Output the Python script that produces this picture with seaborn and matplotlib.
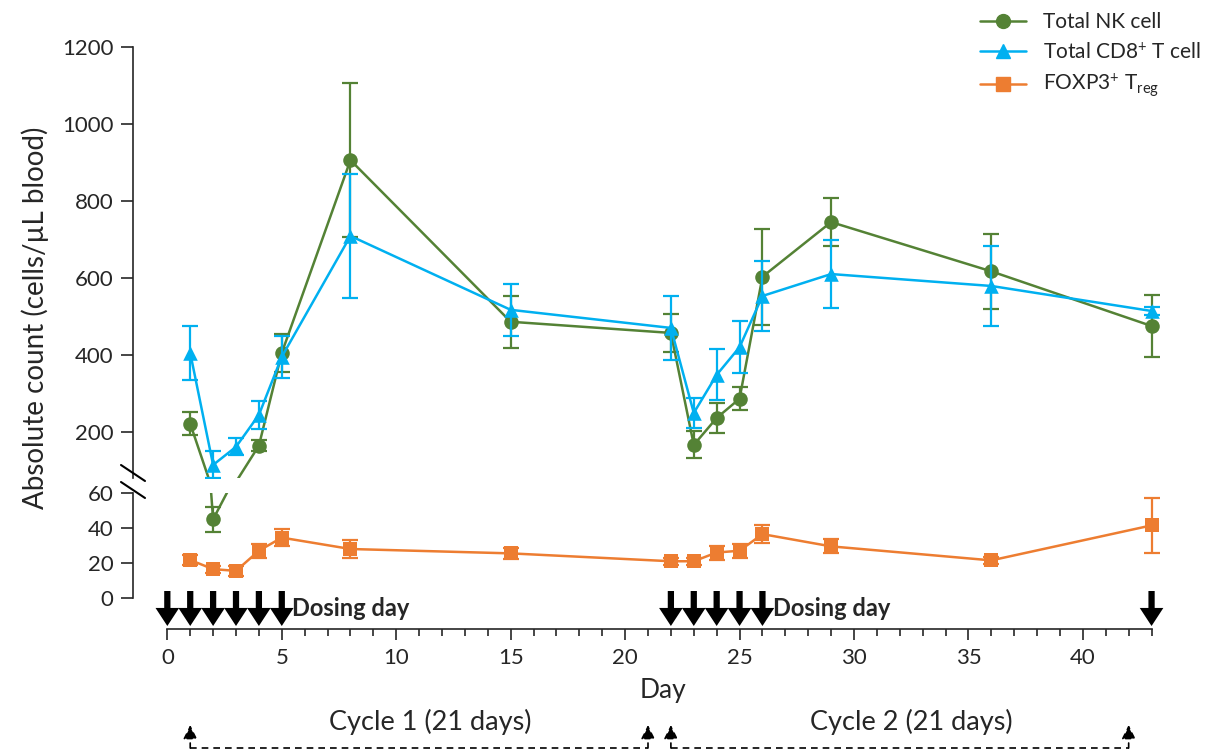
import matplotlib
matplotlib.use('Agg')
import matplotlib.pyplot as plt
import matplotlib.transforms as mtrans
from matplotlib.lines import Line2D
import seaborn as sns
import pandas as pd

# sampling days
days = [1, 2, 3, 4, 5, 8, 15, 22, 23, 24, 25, 26, 29, 36, 43]

# means and error (cells/uL blood)
nk_mean = [221, 45, 70, 164, 405, 906, 486, 457, 166, 236, 286, 603, 745, 617, 475]
nk_err = [30, 7, 10, 15, 50, 200, 68, 50, 35, 40, 30, 125, 63, 98, 80]
cd8_mean = [405, 114, 161, 244, 395, 709, 517, 470, 249, 348, 420, 553, 610, 579, 514]
cd8_err = [70, 35, 22, 37, 55, 160, 67, 83, 38, 66, 68, 90, 88, 105, 10]
treg_mean = [21.7, 16.5, 15.5, 27, 34.5, 28, 25.5, 21, 21, 26, 27, 36.5, 29.5, 21.5, 41.5]
treg_err = [3, 2, 3, 4, 5, 5, 3, 2, 2, 4, 4, 5, 4, 2, 15.5]

series_names = ['Total NK cell', 'Total CD8$^{+}$ T cell', 'FOXP3$^{+}$ T$_{\\mathrm{reg}}$']
series_colors = ['#548235', '#00B0F0', '#ED7D31']
series_markers = ['o', '^', 's']

# dosing schedule
dosing_days = [0, 1, 2, 3, 4, 5, 22, 23, 24, 25, 26, 43]
dosing_label_days = [5.45, 26.45]
cycle_labels = ['Cycle 1 (21 days)', 'Cycle 2 (21 days)']
cycle_start = [1, 22]
cycle_end = [21, 42]

# axis ranges for the broken y axis
upper_lim = (80, 1200)
lower_lim = (0, 60)
upper_ticks = [200, 400, 600, 800, 1000, 1200]
lower_ticks = [0, 20, 40, 60]

W, H = 1213, 752


def main():
    sns.set_style('ticks')
    plt.rcParams['font.family'] = ['Lato', 'DejaVu Sans']
    plt.rcParams['mathtext.fontset'] = 'custom'
    plt.rcParams['mathtext.rm'] = 'Lato'
    plt.rcParams['mathtext.it'] = 'Lato:italic'
    plt.rcParams['axes.linewidth'] = 1.2

    df = pd.DataFrame({
        'day': days * 3,
        'value': nk_mean + cd8_mean + treg_mean,
        'err': nk_err + cd8_err + treg_err,
        'series': sum([[s] * len(days) for s in series_names], []),
    })

    fig = plt.figure(figsize=(W / 100, H / 100), dpi=100)
    left, right = 133 / W, 1163 / W
    ax_top = fig.add_axes([left, 1 - 478 / H, right - left, (478 - 47) / H])
    ax_bot = fig.add_axes([left, 1 - 598 / H, right - left, (598 - 493) / H])

    for ax, lim in [(ax_top, upper_lim), (ax_bot, lower_lim)]:
        for i, name in enumerate(series_names):
            sub = df[df['series'] == name]
            z = 2 + i
            sns.lineplot(data=sub, x='day', y='value', ax=ax, color=series_colors[i],
                         lw=1.8, sort=False, errorbar=None, legend=False, zorder=z)
            inside = sub[(sub['value'] >= lim[0]) & (sub['value'] <= lim[1])]
            ax.errorbar(inside['day'], inside['value'], yerr=inside['err'], fmt='none',
                        ecolor=series_colors[i], elinewidth=1.6, capsize=6, capthick=1.6,
                        zorder=z)
            sns.scatterplot(data=inside, x='day', y='value', ax=ax, color=series_colors[i],
                            marker=series_markers[i], s=110, linewidth=0, legend=False,
                            zorder=z + 0.5)
        ax.set_xlim(-1.5, 43.5)
        ax.set_ylim(*lim)
        ax.set_xlabel('')
        ax.set_ylabel('')
        ax.tick_params(axis='y', length=9, width=1.2, labelsize=16, pad=5)
        ax.spines['right'].set_visible(False)
        ax.spines['top'].set_visible(False)

    ax_top.set_yticks(upper_ticks)
    ax_bot.set_yticks(lower_ticks)

    # upper panel has no x axis
    ax_top.spines['bottom'].set_visible(False)
    ax_top.tick_params(axis='x', bottom=False, labelbottom=False)

    # x axis offset below the lower panel
    ax_bot.spines['bottom'].set_position(('outward', 22))
    ax_bot.spines['bottom'].set_bounds(0, 43)
    ax_bot.set_xticks([0, 5, 10, 15, 20, 25, 30, 35, 40])
    ax_bot.set_xticks(range(0, 44), minor=True)
    ax_bot.tick_params(axis='x', which='major', length=8, width=1.2, labelsize=16, pad=6)
    ax_bot.tick_params(axis='x', which='minor', length=5, width=1.2)
    ax_bot.set_xlabel('Day', fontsize=19)
    ax_bot.xaxis.set_label_coords((663 - 133) / 1030, -(678 - 598) / 105)

    # axis break marks (drawn as "\")
    dx, dy = 12 / W, 8 / H
    for yp in [473, 490]:
        y0 = 1 - yp / H
        fig.add_artist(Line2D([left - dx, left + dx], [y0 + dy, y0 - dy],
                              transform=fig.transFigure, color='black', lw=1.5))

    # y label spanning both panels
    fig.text(35 / W, 1 - 318 / H, 'Absolute count (cells/µL blood)', rotation=90,
             ha='center', va='center', fontsize=20)

    # dosing arrows
    tip = -(626 - 598) / 105
    tail = (598 - 591) / 105
    for d in dosing_days:
        ax_bot.annotate('', xy=(d, tip), xycoords=ax_bot.get_xaxis_transform(),
                        xytext=(d, tail), textcoords=ax_bot.get_xaxis_transform(),
                        arrowprops=dict(arrowstyle='simple,head_width=17,head_length=13,tail_width=4.5',
                                        lw=0, color='black', shrinkA=0, shrinkB=0,
                                        mutation_scale=1),
                        annotation_clip=False)
    for d in dosing_label_days:
        ax_bot.text(d, -(609 - 598) / 105, 'Dosing day', transform=ax_bot.get_xaxis_transform(),
                    ha='left', va='center', fontsize=17, fontweight='bold')

    # treatment cycles at the bottom
    trans = mtrans.blended_transform_factory(ax_bot.transData, fig.transFigure)
    y_line = 1 - 748 / H
    y_tip = 1 - 725 / H
    for lab, a, b in zip(cycle_labels, cycle_start, cycle_end):
        ax_bot.plot([a, b], [y_line, y_line], transform=trans, color='black', lw=1.2,
                    ls=(0, (4, 3)), clip_on=False)
        for x in [a, b]:
            ax_bot.annotate('', xy=(x, y_tip), xycoords=trans, xytext=(x, y_line),
                            textcoords=trans,
                            arrowprops=dict(arrowstyle='-|>,head_width=0.3,head_length=0.6',
                                            lw=1.2, ls=(0, (3, 3)), color='black',
                                            shrinkA=0, shrinkB=0, mutation_scale=14),
                            annotation_clip=False)
        ax_bot.text((a + b) / 2 + 0.5, 1 - 722 / H, lab, transform=trans, ha='center',
                    va='center', fontsize=19.5)

    # legend
    handles = [Line2D([], [], color=c, marker=m, markersize=10, lw=1.8)
               for c, m in zip(series_colors, series_markers)]
    fig.legend(handles, series_names, loc='upper right', bbox_to_anchor=(1.0, 1.0),
               frameon=False, fontsize=15, handlelength=2.2, labelspacing=0.45,
               borderaxespad=0.2)

    fig.savefig('out.png', dpi=100)


if __name__ == "__main__":
    main()
